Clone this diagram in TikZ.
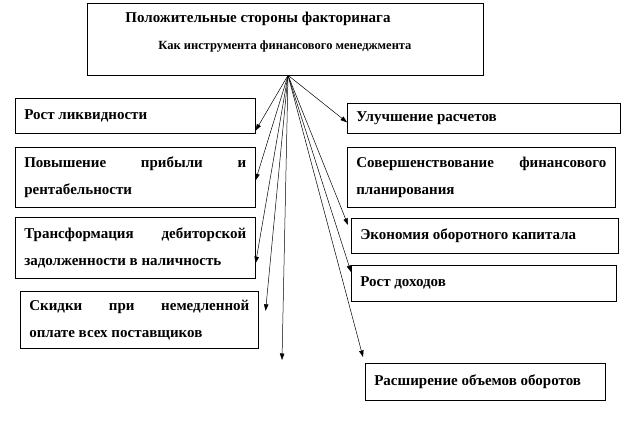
\documentclass[tikz,border=0pt]{standalone}
\usepackage{fontspec}
\setmainfont{Liberation Serif}
\usetikzlibrary{calc, positioning}
\usetikzlibrary{arrows.meta}
\hyphenpenalty=10000

\begin{document}
\begin{tikzpicture}[x=1pt,y=-1pt,
  box/.style={draw, line width=0.6pt, anchor=north west, inner xsep=9pt, inner ysep=0pt,
    align=justify, font=\bfseries\fontsize{15}{27}\selectfont},
  arr/.style={-{Triangle[length=6.5pt,width=4.5pt]}, line width=0.5pt}]
\useasboundingbox (0,0) rectangle (625,435);

% head box
\node[draw, line width=0.6pt, minimum width=396pt, minimum height=72pt] (top) at (285,39) {};
\node[font=\bfseries\fontsize{15}{18}\selectfont] (ttl) at (258,19) {Положительные стороны факторинага};
\node[font=\bfseries\fontsize{12.5}{14}\selectfont] (sub) at (285,47) {Как инструмента финансового менеджмента};

% left column
\node[box, text width=222pt, minimum height=35pt] (L1) at (15,98) {Рост ликвидности};
\node[box, text width=222pt, minimum height=60pt] (L2) at (15,147) {Повышение прибыли и\linebreak рентабельности};
\node[box, text width=222pt, minimum height=61pt] (L3) at (15,217) {Трансформация дебиторской\linebreak задолженности в наличность};
\node[box, text width=220pt, minimum height=57pt] (L4) at (20,291) {Скидки при немедленной\linebreak оплате всех поставщиков};

% right column
\node[box, text width=255pt, minimum height=30pt] (R1) at (347,103) {Улучшение расчетов};
\node[box, text width=250pt, minimum height=60pt] (R2) at (347,147) {Совершенствование финансового\linebreak планирования};
\node[box, text width=249pt, minimum height=35pt] (R3) at (351,218) {Экономия оборотного капитала};
\node[box, text width=247pt, minimum height=36pt] (R4) at (351,265) {Рост доходов};
\node[box, text width=222pt, minimum height=37pt] (R5) at (365,363) {Расширение объемов оборотов};

\coordinate (down) at (282,360);

% arrows
\draw[arr] ([xshift=3pt]top.south) -- ([yshift=3pt]L1.south east);
\draw[arr] ([xshift=3pt]top.south) -- ([yshift=-3pt]L2.east);
\draw[arr] ([xshift=3pt]top.south) -- ($(L3.east)!0.5!(L3.south east)$);
\draw[arr] ([xshift=3pt]top.south) -- ([shift={(7pt,9pt)}]L4.east);
\draw[arr] ([xshift=3pt]top.south) -- (down);
\draw[arr] ([xshift=3pt]top.south) -- ([yshift=-4pt]R1.west);
\draw[arr] ([xshift=3pt]top.south) -- ([shift={(-3pt,-7pt)}]R3.north west);
\draw[arr] ([xshift=3pt]top.south) -- ([yshift=-7pt]R4.north west);
\draw[arr] ([xshift=3pt]top.south) -- ([shift={(-2pt,6pt)}]R5.north west);
\end{tikzpicture}
\end{document}
